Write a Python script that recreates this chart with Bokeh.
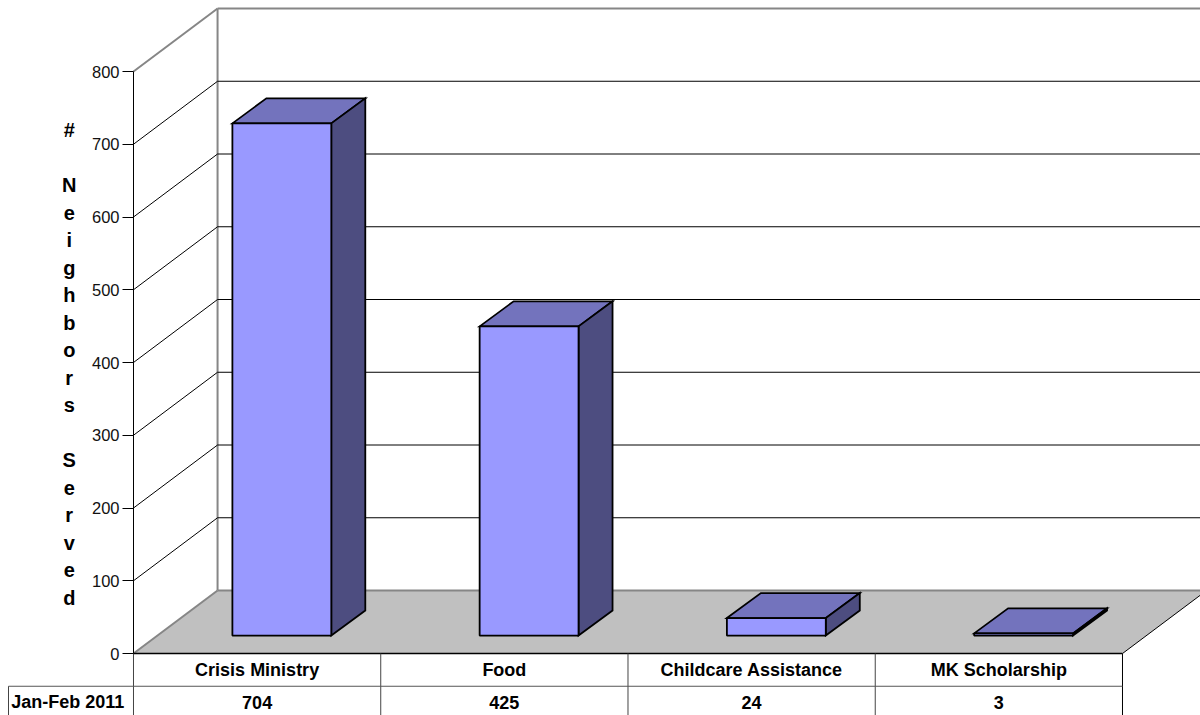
from bokeh.plotting import figure
from bokeh.embed import file_html
from bokeh.resources import INLINE
from bokeh.core.properties import value
from bokeh.models import FixedTicker, Range1d

categories = ["Crisis Ministry", "Food", "Childcare Assistance", "MK Scholarship"]
served = [704, 425, 24, 3]
series_name = "Jan-Feb 2011"
ticks = [0, 100, 200, 300, 400, 500, 600, 700, 800]
y_title = "#\n\nN\ne\ni\ng\nh\nb\no\nr\ns\n\nS\ne\nr\nv\ne\nd"

FONT = "Liberation Sans"
DX, DY = 0.34, 86.6                 # depth of the box, in axis units
BAR_DX, BAR_DY = 0.1375, 34.4       # depth of a bar
FRONT_DY = 24.7                     # lift of a bar's front base over the floor edge
Y_MAX = ticks[-1]
N = len(categories)
X_START, X_END = -0.5379, 4.3155
Y_START, Y_END = -85.2, 897.6

p = figure(width=1200, height=715, output_backend="svg", toolbar_location=None,
           x_range=Range1d(X_START, X_END), y_range=Range1d(Y_START, Y_END),
           x_axis_location=None, y_axis_location="left",
           min_border_left=0, min_border_right=0, min_border_top=0, min_border_bottom=0)
p.grid.visible = False
p.outline_line_color = None
p.background_fill_color = "white"

# floor
p.patch([0, DX, N + DX, N], [0, DY, DY, 0], fill_color="#C0C0C0", line_color=None)
GRAY = "#868686"
p.segment([0, 0, DX, DX, DX], [0, Y_MAX, DY, DY, Y_MAX + DY],
          [DX, DX, N + DX, DX, N + DX], [DY, Y_MAX + DY, DY, Y_MAX + DY, Y_MAX + DY],
          line_color=GRAY, line_width=2)
p.segment([N], [0], [N + DX], [DY], line_color="black", line_width=1)

# gridlines on both walls
inner = ticks[1:-1]
p.segment([0] * len(inner), inner, [DX] * len(inner), [t + DY for t in inner], line_color="black", line_width=1)
p.segment([DX] * len(inner), [t + DY for t in inner], [N + DX] * len(inner), [t + DY for t in inner],
          line_color="black", line_width=1)

# bars
x0 = [i + 0.4 for i in range(N)]
x1 = [x + 0.4 for x in x0]
base = FRONT_DY
tops = [v + base for v in served]
p.patches([[a, a + BAR_DX, b + BAR_DX, b] for a, b in zip(x0, x1)],
          [[t, t + BAR_DY, t + BAR_DY, t] for t in tops],
          fill_color="#7373BD", line_color="black", line_width=1.8, line_join="miter")
p.patches([[b, b + BAR_DX, b + BAR_DX, b] for b in x1],
          [[base, base + BAR_DY, t + BAR_DY, t] for t in tops],
          fill_color="#4D4D80", line_color="black", line_width=1.8, line_join="miter")
p.quad(left=x0, right=x1, bottom=[base] * N, top=tops,
       fill_color="#9999FF", line_color="black", line_width=1.8)

# data table beneath the chart
ROW1, ROW2 = -45.0, Y_START
LEFT = -0.5055
p.segment([0], [0], [N], [0], line_color="black", line_width=1.6)
p.segment(list(range(N)), [0] * N, list(range(N)), [ROW2] * N,
          line_color="#444444", line_width=1)
p.segment([N], [0], [N], [ROW2], line_color="black", line_width=1)
p.segment([LEFT], [ROW1], [N], [ROW1], line_color="#555555", line_width=1)
p.segment([LEFT], [ROW1], [LEFT], [ROW2], line_color="#444444", line_width=1)

cx = [i + 0.5 for i in range(N)]
p.text(cx, [-23] * N, text=categories, text_font=value(FONT), text_font_size="18px",
       text_font_style="bold", text_align="center", text_baseline="middle", text_color="black")
p.text(cx, [-67] * N, text=[str(v) for v in served], text_font=value(FONT), text_font_size="18px",
       text_font_style="bold", text_align="center", text_baseline="middle", text_color="black")
p.text([-0.2655], [-67], text=[series_name], text_font=value(FONT), text_font_size="18px",
       text_font_style="bold", text_align="center", text_baseline="middle", text_color="black")

# stacked axis title
p.text([-0.2598], [398], text=[y_title], text_font=value(FONT), text_font_size="20px",
       text_font_style="bold", text_align="center", text_baseline="middle", text_color="black",
       text_line_height=1.25)

# value axis
ax = p.yaxis[0]
ax.fixed_location = 0
ax.bounds = (0, Y_MAX)
ax.ticker = FixedTicker(ticks=ticks)
ax.major_tick_out = 11
ax.major_tick_in = 0
ax.minor_tick_line_color = None
ax.major_label_standoff = 3
ax.major_label_text_font = FONT
ax.major_label_text_font_size = "16.5px"
ax.major_label_text_color = "#111111"
ax.axis_line_color = "black"
ax.major_tick_line_color = "black"

open("out.html", "w").write(file_html(p, INLINE))
